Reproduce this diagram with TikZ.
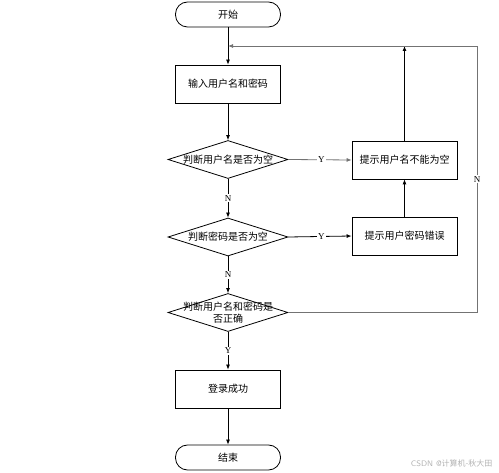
\documentclass[tikz,border=0pt]{standalone}
\usepackage{fontspec}
\usepackage{tikz}
\usetikzlibrary{arrows.meta,positioning,calc,shapes.geometric}
\newfontfamily\cjk{Noto Sans CJK SC}
\newfontfamily\yn{Liberation Serif}

\begin{document}
\begin{tikzpicture}[
		x=1pt, y=-1pt,
		>={Latex[length=5pt,width=4pt]},
		termbox/.style={draw, thick, rounded corners=12pt, minimum width=105pt, minimum height=25pt, font=\cjk\fontsize{10}{11.5}\selectfont},
		procbox/.style={draw, thick, minimum width=105pt, minimum height=38pt, font=\cjk\fontsize{10}{11.5}\selectfont},
		decbox/.style={draw, thick, diamond, inner sep=0pt, minimum width=120pt, minimum height=38pt, font=\cjk\fontsize{10}{11.5}\selectfont},
		flow/.style={->, thick},
		loopline/.style={->, thick, draw=black!55},
		tag/.style={fill=white, inner sep=1pt, font=\yn\fontsize{9}{10}\selectfont}
		]
		\useasboundingbox (0,0) rectangle (499,473);
		
		% main column
		\node[termbox] (start) at (228,14.5) {开始};
		\node[procbox] (input) at (228,84) {输入用户名和密码};
		\node[decbox] (chkname) at (228,159.5) {\makebox[0pt]{判断用户名是否为空}};
		\node[decbox] (chkpwd) at (228,237) {\makebox[0pt]{判断密码是否为空}};
		\node[decbox] (chkboth) at (228,312.5) {\makebox[0pt]{\shortstack{判断用户名和密码是\\否正确}}};
		\node[procbox] (ok) at (228,389) {登录成功};
		\node[termbox] (stop) at (228,457.5) {结束};
		
		% right column
		\node[procbox] (msgname) at (404.5,160) {提示用户名不能为空};
		\node[procbox] (msgpwd) at (404.5,236) {提示用户密码错误};
		
		\coordinate (loop) at (228,46);
		\coordinate (rtop) at (477,46);
		
		% arrows
		\draw[flow] (start) -- (input);
		\draw[flow] (input) -- (chkname);
		\draw[flow] (chkname) -- node[tag] {N} (chkpwd);
		\draw[flow] (chkpwd) -- node[tag] {N} (chkboth);
		\draw[flow] (chkboth) -- node[tag] {Y} (ok);
		\draw[flow] (ok) -- (stop);
		
		\draw[loopline] (chkname.east) -- node[tag, pos=0.52] {Y} (msgname.west);
		\draw[flow] (chkpwd.east) -- node[tag, pos=0.52] {Y} (msgpwd.west);
		\draw[flow] (msgpwd) -- (msgname);
		\draw[flow] (msgname.north) -- (msgname.north |- loop);
		\draw[loopline] (chkboth.east) -| node[tag, pos=0.75] {N} (rtop) -- (loop);
		
		\node[text=black!30, font=\sffamily\fontsize{8}{9}\selectfont, anchor=east] (mark) at (496,463) {CSDN @{\cjk 计算机-秋大田}};
	\end{tikzpicture}
\end{document}
